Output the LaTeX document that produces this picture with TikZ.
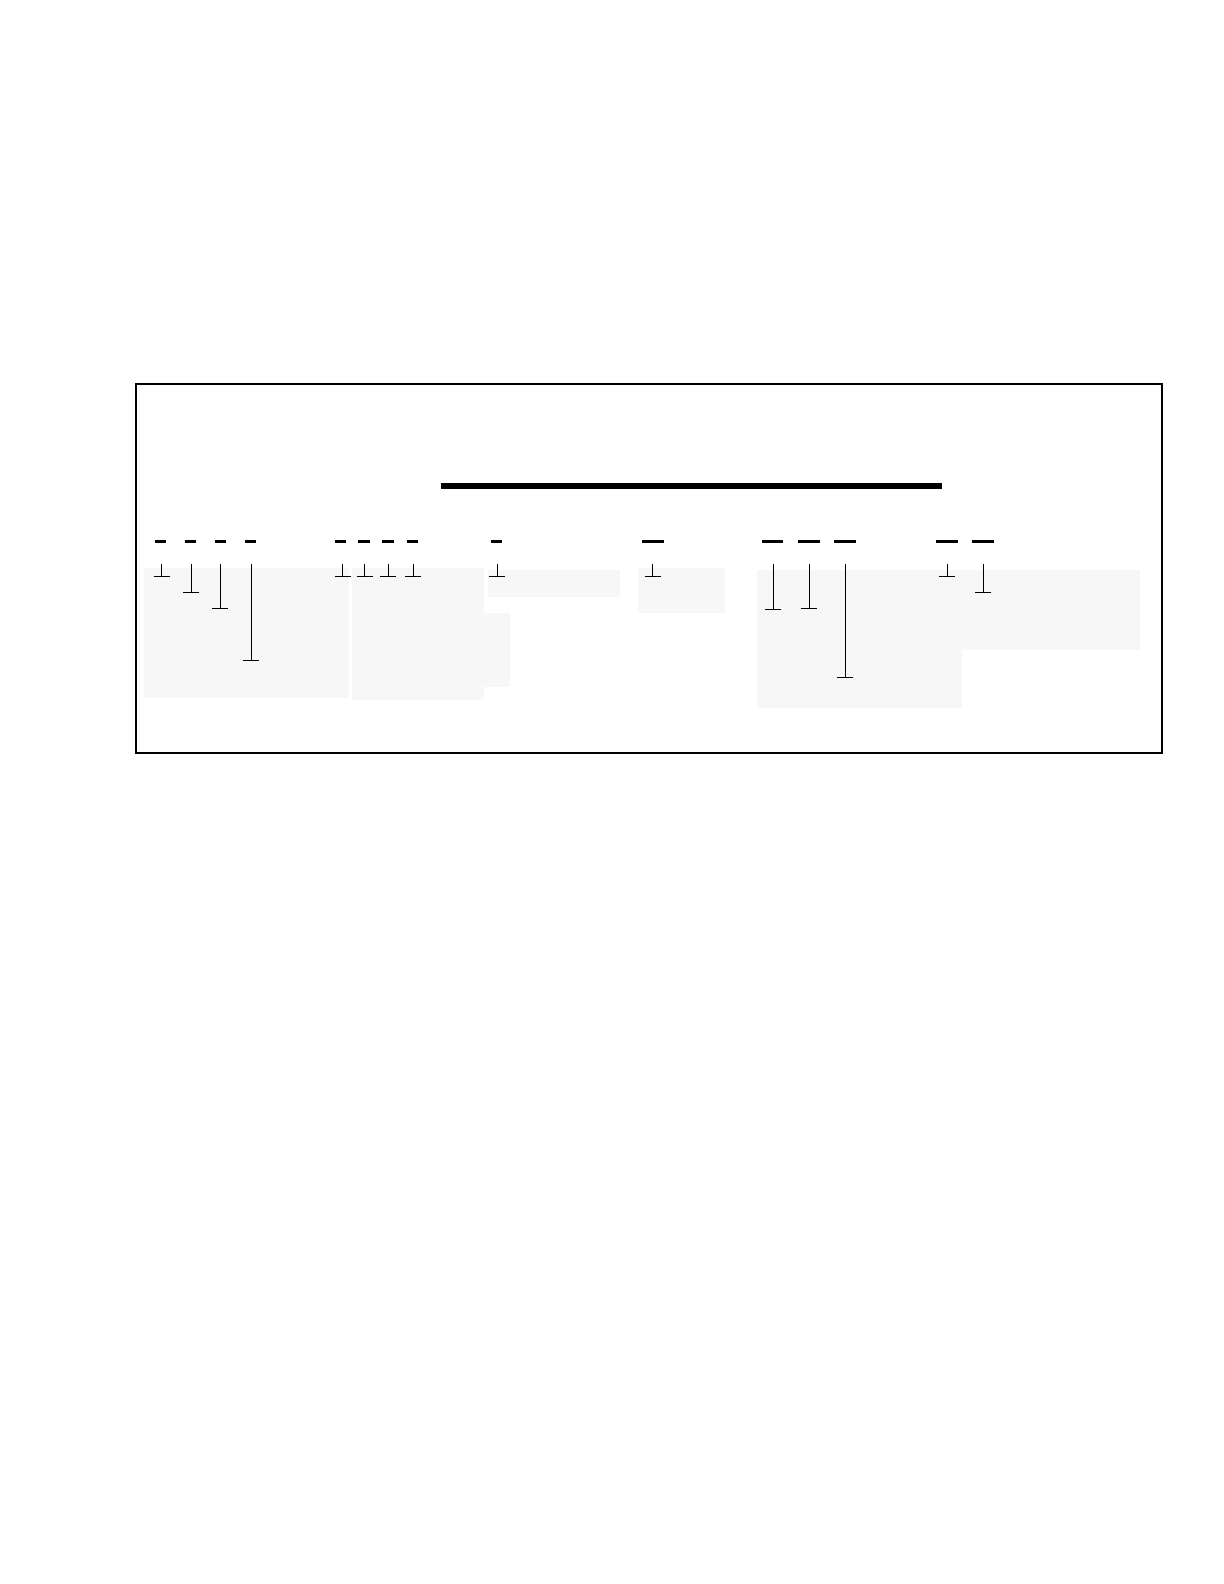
\documentclass[tikz,border=0pt]{standalone}
\usepackage{tikz}
\definecolor{shade}{RGB}{247,247,247}

\begin{document}
\begin{tikzpicture}[x=0.5pt,y=-0.5pt]
    \tikzstyle{frame}=[draw=black, line width=0.75pt]
    \tikzstyle{field}=[fill=shade, draw=none]
    \tikzstyle{blank}=[line width=1.5pt]
    \tikzstyle{pointer}=[line width=0.5pt]
    \useasboundingbox (0,0) rectangle (1224,1584);
    % shaded fields
    \fill[field] (144,568) rectangle (349,698);
    \fill[field] (352,568) rectangle (484,700);
    \fill[field] (484,613) rectangle (510,687);
    \fill[field] (488,570) rectangle (620,597);
    \fill[field] (638,568) rectangle (725,613);
    \fill[field] (757,570) rectangle (1140,650);
    \fill[field] (757,650) rectangle (962,708);
    % outer frame and heading bar
    \draw[frame] (136,384) rectangle (1162,753);
    \coordinate (barL) at (441,486);
    \coordinate (barR) at (942,486);
    \draw[line width=2.8pt] (barL) -- (barR);
    % short and long blanks
    \foreach \a/\b in {154.7/166.3, 184.7/196.3, 214.7/226.3, 244.7/256.3,
        334.7/346.3, 358.3/370, 382.3/394, 406.7/418.3, 490.7/502.3,
        641.7/664, 762/783, 798/820, 834/856, 936/958, 972/994}
        \draw[blank] (\a,541) -- (\b,541);
    % pointers
    \foreach \x/\y in {161.7/576, 191.3/592, 220.3/608, 251.3/660,
        342.7/576, 364.7/576, 388.3/576, 413.3/576, 497.3/576, 652.7/576,
        773.3/609, 809.3/608, 845.3/677, 947.3/576, 983.3/592}
        \draw[pointer] (\x,564) -- (\x,\y) (\x-8,\y) -- (\x+8,\y);
\end{tikzpicture}
\end{document}
